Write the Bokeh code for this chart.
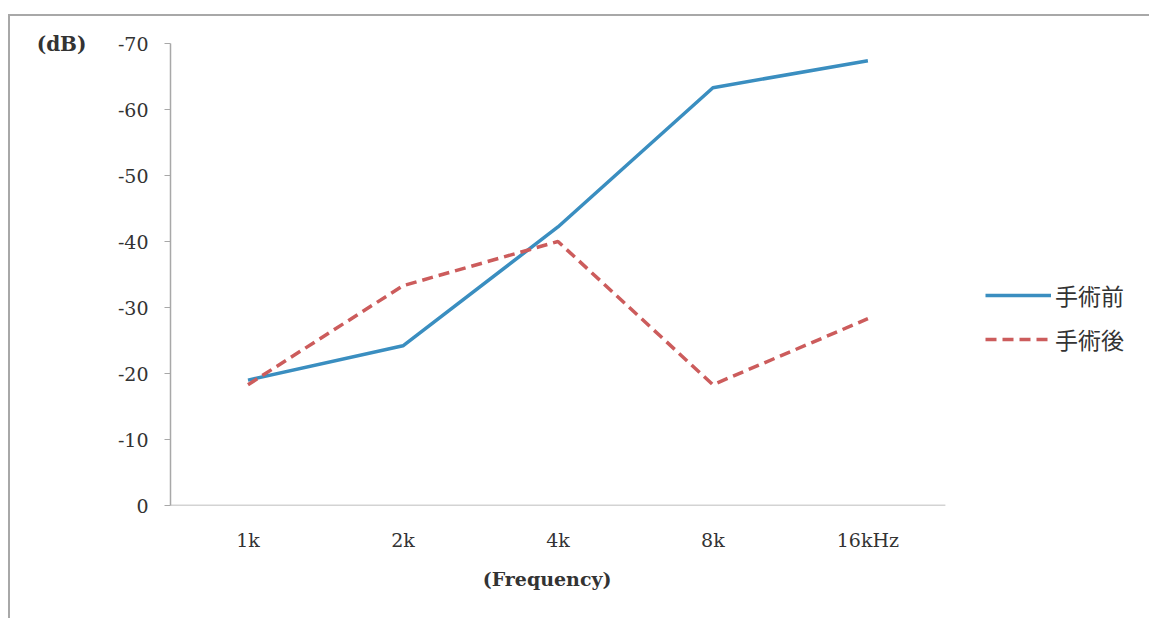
from bokeh.plotting import figure
from bokeh.models import Legend, LegendItem, FixedTicker, LinearAxis
from bokeh.embed import file_html
from bokeh.resources import INLINE

categories = ["1k", "2k", "4k", "8k", "16kHz"]
before = [-19, -24.2, -42.2, -63.3, -67.4]
after = [-18.3, -33.3, -40, -18.3, -28.3]
y_ticks = [0, -10, -20, -30, -40, -50, -60, -70]
series_names = ["手術前", "手術後"]
unit_label = "(dB)"
x_title = "(Frequency)"

xs = list(range(1, len(categories) + 1))

p = figure(width=1141, height=604, output_backend="svg", toolbar_location=None,
           x_range=(0.5, 6.83), y_range=(0, -70),
           min_border_left=160, min_border_top=27, min_border_bottom=115, min_border_right=0)
p.margin = (14, 0, 0, 8)
p.styles = {"border-left": "2px solid #a8a8a8", "border-top": "2px solid #a8a8a8"}
p.outline_line_color = None
p.xgrid.visible = False
p.ygrid.visible = False
p.yaxis.visible = False

serif = "DejaVu Serif"
txt = "#333333"
axis_grey = "#a8a8a8"

# baseline of the category axis (spans the category slots only)
p.segment(x0=[xs[0] - 0.5], y0=[y_ticks[0]], x1=[xs[-1] + 0.5], y1=[y_ticks[0]],
          line_color=axis_grey, line_width=1.5)

r1 = p.line(xs, before, line_color="#3a8ec0", line_width=3.5)
r2 = p.line(xs, after, line_color="#cc5c5c", line_width=3.5, line_dash="11 6")

p.xaxis.ticker = FixedTicker(ticks=xs)
p.xaxis.major_label_overrides = {i: c for i, c in zip(xs, categories)}
p.xaxis.major_tick_line_color = None
p.xaxis.minor_tick_line_color = None
p.xaxis.axis_line_color = None
p.xaxis.major_label_standoff = 17
p.xaxis.major_label_text_font = serif
p.xaxis.major_label_text_font_size = "19px"
p.xaxis.major_label_text_color = txt

title_axis = LinearAxis(ticker=FixedTicker(ticks=[2.93]),
                        major_label_overrides={2.93: x_title},
                        axis_line_color=None, major_tick_line_color=None,
                        minor_tick_line_color=None, major_label_standoff=8,
                        major_label_text_font=serif, major_label_text_font_size="19px",
                        major_label_text_font_style="bold", major_label_text_color=txt)
p.add_layout(title_axis, "below")

yax = LinearAxis(ticker=FixedTicker(ticks=y_ticks),
                 major_label_overrides={v: str(v) for v in y_ticks},
                 axis_line_color=axis_grey, axis_line_width=1.5,
                 major_tick_line_color=axis_grey, major_tick_in=0, major_tick_out=6,
                 minor_tick_line_color=None, major_label_standoff=16,
                 major_label_text_font=serif, major_label_text_font_size="19px",
                 major_label_text_color=txt)
p.add_layout(yax, "left")

unit_axis = LinearAxis(ticker=FixedTicker(ticks=[y_ticks[-1]]),
                       major_label_overrides={y_ticks[-1]: unit_label},
                       axis_line_color=None, major_tick_line_color=None,
                       minor_tick_line_color=None, major_label_standoff=22,
                       major_label_text_font=serif, major_label_text_font_size="20px",
                       major_label_text_font_style="bold", major_label_text_color=txt)
p.add_layout(unit_axis, "left")

legend = Legend(items=[LegendItem(label=series_names[0], renderers=[r1]),
                       LegendItem(label=series_names[1], renderers=[r2])],
                location=(815, 149), glyph_width=66, glyph_height=22,
                label_text_font="Noto Sans CJK JP", label_text_font_size="23px",
                label_text_color=txt, spacing=10, padding=0, margin=0,
                label_standoff=4, border_line_color=None, background_fill_alpha=0)
p.add_layout(legend, "center")

open("out.html", "w").write(file_html(p, INLINE))
